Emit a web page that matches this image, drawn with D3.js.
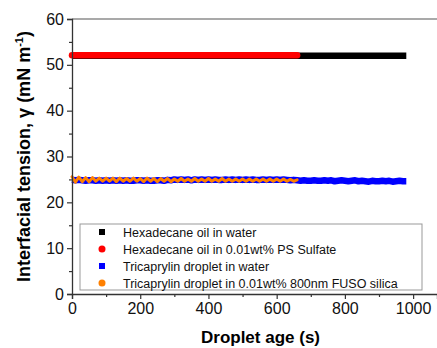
<!DOCTYPE html>
<html>
<head>
<meta charset="utf-8">
<script src="https://cdn.jsdelivr.net/npm/d3@7"></script>
<style>
  body { margin: 0; background: #fff; }
  svg text { font-family: "Liberation Sans", Arial, sans-serif; }
</style>
</head>
<body>
<div id="chart"></div>
<script>
// Droplet age (s) sampled every 10 s
var agesLong = [0,10,20,30,40,50,60,70,80,90,100,110,120,130,140,150,160,170,180,190,
    200,210,220,230,240,250,260,270,280,290,300,310,320,330,340,350,360,370,380,390,
    400,410,420,430,440,450,460,470,480,490,500,510,520,530,540,550,560,570,580,590,
    600,610,620,630,640,650,660,670,680,690,700,710,720,730,740,750,760,770,780,790,
    800,810,820,830,840,850,860,870,880,890,900,910,920,930,940,950,960,970,980];
var agesShort = [0,10,20,30,40,50,60,70,80,90,100,110,120,130,140,150,160,170,180,190,
    200,210,220,230,240,250,260,270,280,290,300,310,320,330,340,350,360,370,380,390,
    400,410,420,430,440,450,460,470,480,490,500,510,520,530,540,550,560,570,580,590,
    600,610,620,630,640,650,660];

// Interfacial tension (mN/m)
var hexWater = [52.0,52.0,52.0,52.0,52.0,52.0,52.0,52.0,52.0,52.0,52.0,52.0,52.0,52.0,52.0,52.0,52.0,52.0,52.0,52.0,
    52.0,52.0,52.0,52.0,52.0,52.0,52.0,52.0,52.0,52.0,52.0,52.0,52.0,52.0,52.0,52.0,52.0,52.0,52.0,52.0,
    52.0,52.0,52.0,52.0,52.0,52.0,52.0,52.0,52.0,52.0,52.0,52.0,52.0,52.0,52.0,52.0,52.0,52.0,52.0,52.0,
    52.0,52.0,52.0,52.0,52.0,52.0,52.0,52.0,52.0,52.0,52.0,52.0,52.0,52.0,52.0,52.0,52.0,52.0,52.0,52.0,
    52.0,52.0,52.0,52.0,52.0,52.0,52.0,52.0,52.0,52.0,52.0,52.0,52.0,52.0,52.0,52.0,52.0,52.0,52.0];
var hexPS = [52.1,52.1,52.1,52.1,52.1,52.1,52.1,52.1,52.1,52.1,52.1,52.1,52.1,52.1,52.1,52.1,52.1,52.1,52.1,52.1,
    52.1,52.1,52.1,52.1,52.1,52.1,52.1,52.1,52.1,52.1,52.1,52.1,52.1,52.1,52.1,52.1,52.1,52.1,52.1,52.1,
    52.1,52.1,52.1,52.1,52.1,52.1,52.1,52.1,52.1,52.1,52.1,52.1,52.1,52.1,52.1,52.1,52.1,52.1,52.1,52.1,
    52.1,52.1,52.1,52.1,52.1,52.1,52.1];
var triWater = [24.9,24.8,24.9,24.8,24.7,24.8,24.8,24.7,24.8,24.7,
    24.8,24.7,24.8,24.7,24.8,24.7,24.8,24.7,24.7,24.8,
    24.8,24.7,24.8,24.7,24.7,24.8,24.8,24.7,24.9,24.8,
    25.0,24.9,25.0,24.9,25.0,24.8,25.0,24.9,25.0,24.9,
    25.0,24.9,25.0,24.9,24.9,25.0,24.9,25.0,24.9,25.0,
    24.9,25.0,24.9,25.0,24.9,24.9,25.0,24.9,25.0,24.9,
    25.0,24.9,25.0,24.9,24.8,24.9,24.8,24.7,24.8,24.7,
    24.7,24.8,24.7,24.7,24.8,24.7,24.8,24.6,24.7,24.8,
    24.7,24.6,24.7,24.8,24.6,24.7,24.6,24.5,24.7,24.6,
    24.6,24.7,24.6,24.7,24.5,24.6,24.7,24.6,24.6];
var triSilica = [25.6,24.4,25.5,24.5,25.4,24.5,25.4,24.6,25.3,24.6,
    25.3,24.6,25.3,24.5,25.3,24.6,25.2,24.6,25.3,24.6,
    25.2,24.5,25.3,24.6,25.2,24.5,25.2,24.6,25.2,24.5,
    25.1,24.6,25.2,24.6,25.1,24.6,25.2,24.6,25.1,24.6,
    25.2,24.6,25.1,24.6,25.2,24.6,25.1,24.6,25.1,24.6,
    25.1,24.6,25.1,24.6,25.1,24.6,25.1,24.6,25.1,24.6,
    25.1,24.6,25.1,24.6,25.0,24.6,24.9];

var seriesNames = ["Hexadecane oil in water", "Hexadecane oil in 0.01wt% PS Sulfate",
    "Tricaprylin droplet in water", "Tricaprylin droplet in 0.01wt% 800nm FUSO silica"];
var seriesColors = ["#000000", "#ff0000", "#0000ff", "#ff8000"];
var seriesShapes = ["square", "circle", "square", "circle"];

var xTicks = [0, 200, 400, 600, 800, 1000];
var yTicks = [0, 10, 20, 30, 40, 50, 60];

var W = 437, H = 348;
var margin = {top: 19, right: 0, bottom: 54, left: 72};

var x = d3.scaleLinear().domain([0, 1070]).range([margin.left, W]);
var y = d3.scaleLinear().domain([0, 60]).range([H - margin.bottom, margin.top]);

var svg = d3.select("#chart").append("svg")
    .attr("width", W).attr("height", H);

// top frame line
svg.append("line")
    .attr("x1", x(0)).attr("x2", W)
    .attr("y1", y(60)).attr("y2", y(60))
    .attr("stroke", "#555").attr("stroke-width", 1.2);

// data, drawn as dense marker bands
var series = [
    {ages: agesLong, vals: hexWater, width: 6.5, cap: "butt"},
    {ages: agesShort, vals: hexPS, width: 6.5, cap: "round"},
    {ages: agesLong, vals: triWater, width: 6.5, cap: "butt"},
    {ages: agesShort, vals: triSilica, width: 3, cap: "round"}
];

var line = d3.line()
    .x(function(d) { return x(d[0]); })
    .y(function(d) { return y(d[1]); });

series.forEach(function(s, i) {
    var pts = s.ages.map(function(a, j) { return [a, s.vals[j]]; });
    svg.append("path")
        .attr("d", line(pts))
        .attr("fill", "none")
        .attr("stroke", seriesColors[i])
        .attr("stroke-width", s.width)
        .attr("stroke-linecap", s.cap)
        .attr("stroke-linejoin", "round");
});

// axes
svg.append("g")
    .attr("transform", "translate(0," + y(0) + ")")
    .call(d3.axisBottom(x).tickValues(xTicks).tickSize(5).tickPadding(4).tickFormat(d3.format("d")));
svg.append("g")
    .attr("transform", "translate(0," + y(0) + ")")
    .call(d3.axisBottom(x).tickValues([100, 300, 500, 700, 900]).tickSize(3).tickFormat(""))
    .select(".domain").remove();

svg.append("g")
    .attr("transform", "translate(" + x(0) + ",0)")
    .call(d3.axisLeft(y).tickValues(yTicks).tickSize(5).tickPadding(3));
svg.append("g")
    .attr("transform", "translate(" + x(0) + ",0)")
    .call(d3.axisLeft(y).tickValues([5, 15, 25, 35, 45, 55]).tickSize(3).tickFormat(""))
    .select(".domain").remove();

svg.selectAll(".domain").attr("stroke", "#333").attr("stroke-width", 1.3);
svg.selectAll(".tick line").attr("stroke", "#333").attr("stroke-width", 1.2);
svg.selectAll(".tick text")
    .attr("font-size", 16).attr("fill", "#111")
    .style("font-family", "'Liberation Sans', Arial, sans-serif");

// axis titles
svg.append("text")
    .attr("x", (x(0) + W) / 2 + 6).attr("y", 343)
    .attr("text-anchor", "middle")
    .attr("font-size", 17).attr("font-weight", "bold")
    .text("Droplet age (s)");

var yt = svg.append("text")
    .attr("transform", "translate(30," + ((y(0) + y(60)) / 2) + ") rotate(-90)")
    .attr("text-anchor", "middle")
    .attr("font-size", 18).attr("font-weight", "bold");
yt.append("tspan").text("Interfacial tension, \u03b3 (mN m");
yt.append("tspan").attr("font-size", 11).attr("dy", -7).text("-1");
yt.append("tspan").attr("dy", 7).text(")");

// legend
var lg = svg.append("g");
lg.append("rect")
    .attr("x", 80).attr("y", 224).attr("width", 342).attr("height", 66)
    .attr("fill", "#fff").attr("stroke", "#999").attr("stroke-width", 1);

seriesNames.forEach(function(name, i) {
    var cy = 232 + i * 17;
    if (seriesShapes[i] === "square") {
        lg.append("rect").attr("x", 102 - 3).attr("y", cy - 3)
            .attr("width", 6).attr("height", 6).attr("fill", seriesColors[i]);
    } else {
        lg.append("circle").attr("cx", 102).attr("cy", cy).attr("r", 3.5)
            .attr("fill", seriesColors[i]);
    }
    lg.append("text").attr("x", 123).attr("y", cy + 4.5)
        .attr("font-size", 12.5).attr("fill", "#111").text(name);
});
</script>
</body>
</html>
